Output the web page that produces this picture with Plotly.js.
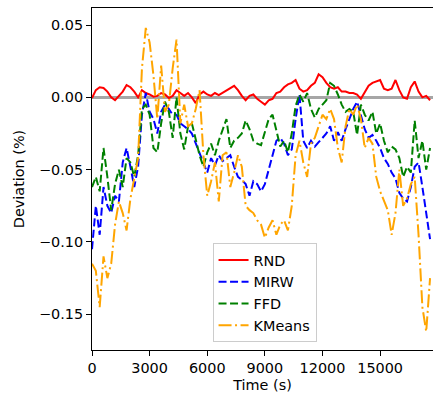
<!DOCTYPE html>
<html>
<head>
<meta charset="utf-8">
<script src="https://cdn.plot.ly/plotly-3.0.1.min.js"></script>
<style>html,body{margin:0;padding:0;background:#fff;}#chart{width:433px;height:403px;}</style>
</head>
<body>
<div id="chart"></div>
<script>
// sampling step of the series (seconds)
const timeStep = 200;
// deviation values in units of 0.001 %
const rnd = [-0.5,5,7,6.5,4,0,-2,1,4,8.5,7,4,0,5,3,2,0.5,1,3,2,-0.5,1,5,3,1,3,0,-4,2,4,
  2,1,3,1.5,3,5,6,8,5,1,-2,1,2,-1,-3,-5,-2,-1,3,4,7,9,10,12,6,4,5,8,10,16,
  14,10,7,6,7,4,4,3,3,2,-1,4,8,10,11,12,6,5,6,12,5,0,-1,7,11,4,0,1,-2];
const mirw = [-105,-75,-95,-62,-75,-80,-68,-72,-45,-35,-48,-62,-48,-12,3,-10,-15,-25,-10,-5,
  -8,-12,-12,-18,-20,-22,-25,-32,-38,-46,-52,-42,-47,-40,-44,-42,-40,-48,-55,-57,
  -60,-68,-58,-60,-65,-60,-50,-38,-30,-28,-32,-40,-36,-15,2,-30,-35,-30,-34,-31,
  -28,-25,-20,-30,-24,-30,-22,-15,-8,-3,-12,-22,-28,-26,-30,-35,-42,-46,-52,-56,
  -66,-70,-72,-62,-48,-45,-62,-80,-98];
const ffd = [-62,-55,-65,-35,-55,-78,-60,-50,-62,-42,-45,-55,-40,-8,-5,-12,-35,-38,-18,-3,
  -10,-28,0,-25,-36,-20,-18,-28,-40,-48,-38,-32,-40,-30,-22,-15,-35,-30,-28,-25,
  -16,-22,-30,-32,-33,-24,-15,-12,-22,-34,-30,-38,-25,-6,2,-3,3,-8,-14,-8,
  -5,-2,10,8,2,-5,-10,-8,-10,-26,-5,-12,-16,-10,-25,-18,-30,-38,-34,-36,
  -42,-55,-48,-52,-16,-42,-30,-50,-35];
const kmeans = [-115,-120,-145,-110,-125,-115,-88,-72,-80,-92,-70,-55,-42,20,48,38,15,-15,22,-10,
  -5,20,40,-18,-5,-20,-18,-8,5,-40,-68,-58,-45,-72,-40,-38,-62,-52,-40,-48,
  -75,-78,-80,-85,-88,-97,-90,-85,-95,-88,-85,-92,-75,-40,-30,-45,-55,-32,-28,-20,
  -12,-15,-8,-15,-35,-45,-20,-8,-12,-5,-15,-35,-28,-32,-55,-65,-72,-78,-95,-80,
  -50,-75,-70,-60,-55,-95,-145,-162,-125];
const seriesNames = ['RND','MIRW','FFD','KMeans'];
const xTicks = [0,3000,6000,9000,12000,15000];
const yTicks = [-0.15,-0.10,-0.05,0.00,0.05];

const time = rnd.map((_, i) => i * timeStep);
const scale = v => v / 1000;
const FONT = 'DejaVu Sans, sans-serif';
const FS = 14.4;

const traces = [
  {name: seriesNames[0], y: rnd.map(scale), line: {color: '#ff0000', width: 2, dash: 'solid'}},
  {name: seriesNames[1], y: mirw.map(scale), line: {color: '#0000ff', width: 2, dash: '8px,3.5px'}},
  {name: seriesNames[2], y: ffd.map(scale), line: {color: '#008000', width: 2, dash: '8px,3.5px'}},
  {name: seriesNames[3], y: kmeans.map(scale), line: {color: '#ffa500', width: 2, dash: '13px,3.5px,2px,3.5px'}}
].map(t => Object.assign({type: 'scatter', mode: 'lines', x: time}, t));

const layout = {
  width: 433, height: 403,
  margin: {l: 92, r: 0, t: 8, b: 53, pad: 0},
  paper_bgcolor: '#ffffff', plot_bgcolor: '#ffffff',
  font: {family: FONT, size: FS, color: '#000000'},
  showlegend: true,
  legend: {
    x: 0.506, y: 0.023, xanchor: 'center', yanchor: 'bottom',
    bgcolor: 'rgba(255,255,255,0.8)', bordercolor: '#cccccc', borderwidth: 1,
    font: {family: FONT, size: FS, color: '#000000'}
  },
  xaxis: {
    range: [0, 17753], tickvals: xTicks, tickformat: 'd',
    ticks: 'outside', ticklen: 5, tickwidth: 1, tickcolor: '#000',
    showline: true, linecolor: '#000', linewidth: 1, mirror: true,
    showgrid: false, zeroline: false,
    title: {text: 'Time (s)', font: {family: FONT, size: FS}, standoff: 4},
    tickfont: {family: FONT, size: FS}
  },
  yaxis: {
    range: [-0.1747, 0.0618], tickvals: yTicks, tickformat: '.2f',
    ticks: 'outside', ticklen: 5, tickwidth: 1, tickcolor: '#000',
    showline: true, linecolor: '#000', linewidth: 1, mirror: false,
    showgrid: false,
    zeroline: true, zerolinecolor: '#a6a6a6', zerolinewidth: 2.5,
    title: {text: 'Deviation (%)', font: {family: FONT, size: FS}, standoff: 10},
    tickfont: {family: FONT, size: FS}
  }
};

Plotly.newPlot('chart', traces, layout, {displayModeBar: false, staticPlot: true});
</script>
</body>
</html>
